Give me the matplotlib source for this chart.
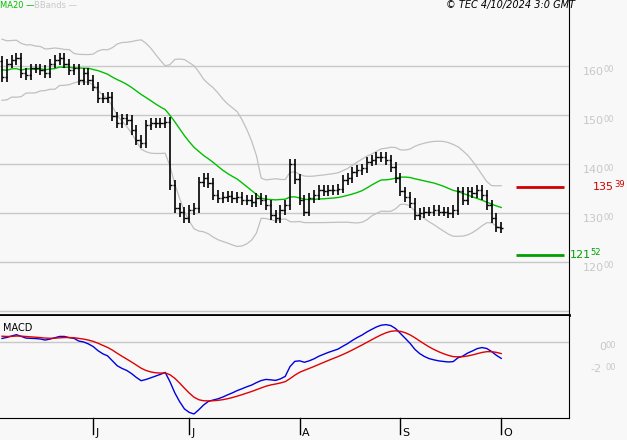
import numpy as np
import pandas as pd
import matplotlib.pyplot as plt

# closes (one per trading day, June -> early October)
closes = [157.8, 160.5, 161.2, 161.6, 158.5, 158.2, 159.5, 159.5, 159.2, 158.5,
          160.5, 161.2, 161.6, 160.5, 159.2, 159.5, 157.1, 158.5, 157.1, 155.8,
          153.4, 153.4, 153.7, 149.7, 148.3, 149.3, 149.0, 146.9, 144.9, 144.2,
          148.0, 148.3, 148.3, 148.3, 148.6,
          135.7, 131.0, 130.2, 129.0, 130.6, 131.0, 136.3, 137.1, 136.1, 133.7,
          133.1, 133.3, 133.5, 133.1, 133.3, 132.7, 132.7,
          132.3, 133.0, 132.7, 131.6, 129.6, 128.9, 130.6, 131.6, 140.1, 137.0,
          132.7, 130.3, 133.0, 133.7, 134.7, 134.4, 134.7, 134.7, 135.0, 136.7,
          137.1, 138.4, 138.8, 139.1, 140.5, 140.8, 141.5, 141.5, 140.8, 139.4,
          137.1, 134.4, 133.3, 132.0, 129.6, 130.0, 130.3, 130.3, 130.6, 130.3,
          130.3, 130.0, 130.6, 134.4, 132.7, 134.4, 134.0, 134.7, 133.7, 131.6,
          128.9, 127.2, 126.9]
# closes before the visible window (needed for MA20 / BBands / MACD warm-up)
history = [155, 163, 157, 164, 154, 160, 165, 156, 158, 163, 155, 161, 164, 154,
           159, 162, 156, 163, 157, 160, 155, 162, 158, 164, 156, 160, 157, 161]
month_labels = ["J", "J", "A", "S", "O"]
month_idx = [19, 39, 62, 83, 104]
price_ticks = [120, 130, 140, 150, 160]
resistance = 135.39
support = 121.52

bg = "#f8f8f8"
grid_c = "#c8c8c8"
label_c = "#c8c8c8"
W, H = 627, 440

full = pd.Series(history + closes)
ma = full.rolling(20).mean()
sd = full.rolling(20).std(ddof=0)
upper = (ma + 2 * sd).values[len(history):]
lower = (ma - 2 * sd).values[len(history):]
ma20 = ma.values[len(history):]
macd = full.ewm(span=12, adjust=False).mean() - full.ewm(span=26, adjust=False).mean()
signal = macd.ewm(span=9, adjust=False).mean()
macd = macd.values[len(history):]
signal = signal.values[len(history):]

c = np.array(closes)
o = np.concatenate([[history[-1]], c[:-1]])
hi = np.maximum(o, c) + 1.0
lo = np.minimum(o, c) - 1.0
x = np.arange(len(c))

fig = plt.figure(figsize=(6.27, 4.4), dpi=100, facecolor=bg)
ax = fig.add_axes([0, 1 - 315 / H, 569 / W, 315 / H], facecolor=bg)
ax2 = fig.add_axes([0, 1 - 418 / H, 569 / W, 102 / H], facecolor=bg)
xlim = (-2 / 4.8, 567 / 4.8)


def ptext(px, py, s, **kw):
    # place text by pixel position (top-left origin)
    fig.text(px / W, 1 - py / H, s, **kw)


for a in (ax, ax2):
    a.set_xlim(*xlim)
    a.set_xticks([])
    a.set_yticks([])
    for s in a.spines.values():
        s.set_visible(False)

ax.set_ylim(160 - 249 / 4.9, 160 + 66 / 4.9)
for g in [110] + price_ticks:
    ax.axhline(g, color=grid_c, lw=1, zorder=0)
ax.plot(x, upper, color="#c0c0c0", lw=0.9)
ax.plot(x, lower, color="#c0c0c0", lw=0.9)
ax.plot(x, ma20, color="#00c000", lw=1)
ax.vlines(x, lo, hi, color="black", lw=1.2)
ax.hlines(o, x - 0.45, x, color="black", lw=1)
ax.hlines(c, x, x + 0.45, color="black", lw=1)
ax.hlines(resistance, 107, 117, color="#d00000", lw=2)
ax.hlines(support, 107, 117, color="#00a000", lw=2)
ax.spines["right"].set_visible(True)
ax.spines["bottom"].set_visible(True)
ax.spines["bottom"].set_linewidth(2)


def ypix(v):
    return 66 + (160 - v) * 4.9


for g in price_ticks:
    ptext(583, ypix(g) + 6, f"{g}", color=label_c, fontsize=8, va="center")
    ptext(604, ypix(g) + 4, "00", color=label_c, fontsize=6, va="center")
ptext(593, ypix(resistance), f"{int(resistance)}", color="#d00000", fontsize=8, va="center")
ptext(614, ypix(resistance) - 2, f"{round(resistance % 1 * 100):02d}", color="#d00000", fontsize=6, va="center")
ptext(570, ypix(support), f"{int(support)}", color="#00a000", fontsize=8, va="center")
ptext(590, ypix(support) - 2, f"{round(support % 1 * 100):02d}", color="#00a000", fontsize=6, va="center")

ptext(0, 5, "MA20 —", color="#00c000", fontsize=6, va="center")
ptext(34, 5, "BBands —", color="#c8c8c8", fontsize=6, va="center")
ptext(575, 5, "© TEC 4/10/2024 3:0 GMT", color="black", fontsize=7,
      style="italic", va="center", ha="right")

ax2.set_ylim(-76 / 11, 26 / 11)
ax2.axhline(0, color=grid_c, lw=1, zorder=0)
ax2.plot(x, macd, color="#0000e0", lw=1)
ax2.plot(x, signal, color="#e00000", lw=1)
ax2.spines["right"].set_visible(True)
ax2.spines["bottom"].set_visible(True)
ptext(3, 328, "MACD", fontsize=7, va="center")
ptext(599, 347, "0", color=label_c, fontsize=8, va="center")
ptext(590, 369, "-2", color=label_c, fontsize=8, va="center")
ptext(605, 345, "00", color=label_c, fontsize=6, va="center")
ptext(605, 367, "00", color=label_c, fontsize=6, va="center")

for i, lab in zip(month_idx, month_labels):
    xf = (2 + 4.8 * i) / W
    fig.add_artist(plt.Line2D([xf, xf], [1 - 418 / H, 1 - 434 / H], color="black", lw=1))
    ptext(2 + 4.8 * i + 2, 438, lab, fontsize=8, va="bottom")

fig.savefig("out.png", dpi=100, facecolor=bg)
